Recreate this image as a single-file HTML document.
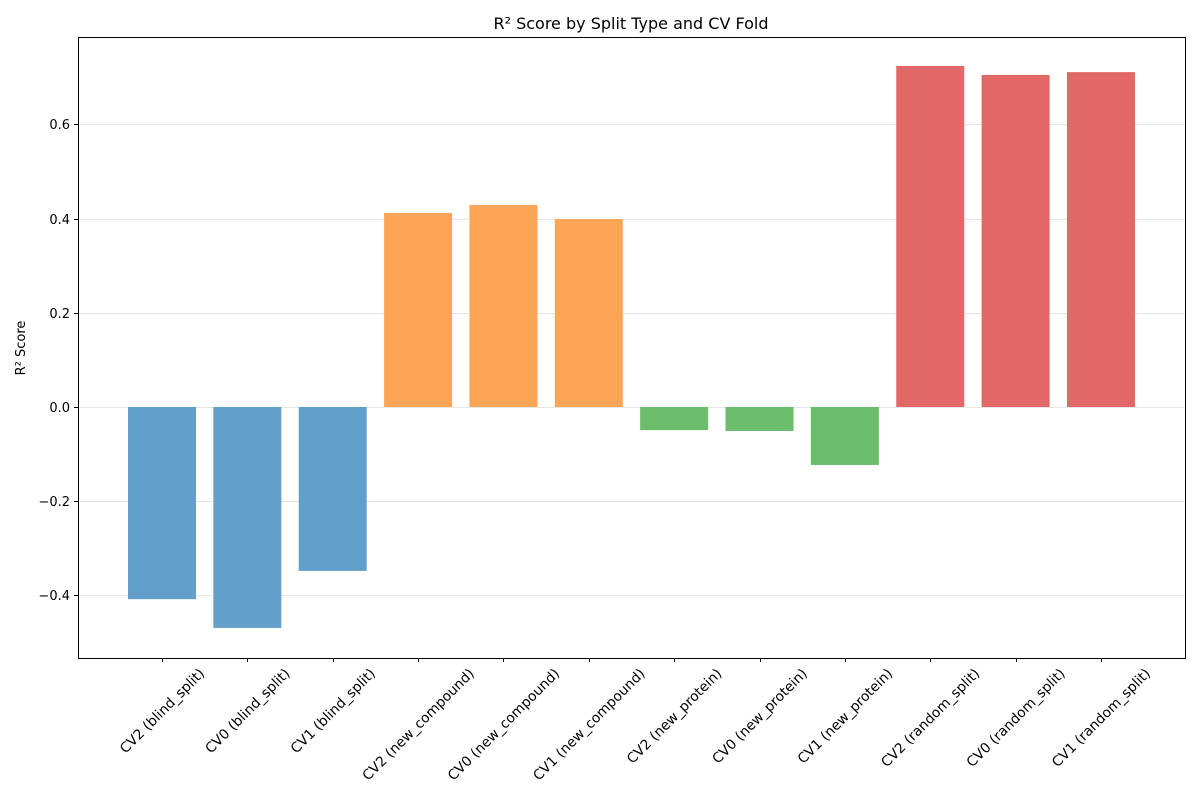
<!DOCTYPE html>
<html><head><meta charset="utf-8"><style>body{margin:0;background:#fff}svg{display:block;font-family:"DejaVu Sans","Liberation Sans",sans-serif}</style></head>
<body>
<svg id="chart" width="1200" height="800">
<rect width="1200" height="800" fill="#fff"/>
<g id="grid"></g><g id="bars"></g><g id="yaxis"></g><g id="xaxis"></g>
<rect x="78.5" y="37.5" width="1107" height="621" fill="none" stroke="#000" stroke-width="1"/>
<text x="631" y="29" text-anchor="middle" font-size="16">R² Score by Split Type and CV Fold</text>
<text transform="translate(25,348) rotate(-90)" text-anchor="middle" font-size="13">R² Score</text>
</svg>
<script>
const categories=["CV2 (blind_split)","CV0 (blind_split)","CV1 (blind_split)","CV2 (new_compound)","CV0 (new_compound)","CV1 (new_compound)","CV2 (new_protein)","CV0 (new_protein)","CV1 (new_protein)","CV2 (random_split)","CV0 (random_split)","CV1 (random_split)"];
const values=[-0.408,-0.469,-0.348,0.412,0.429,0.399,-0.049,-0.051,-0.123,0.724,0.705,0.711];
const groups=[0,0,0,1,1,1,2,2,2,3,3,3];
const groupColors=["#629fcb","#ffa556","#6bbd6b","#e26767"];
const yTicks=[-0.4,-0.2,0.0,0.2,0.4,0.6];
const yTickLabels=["−0.4","−0.2","0.0","0.2","0.4","0.6"];
const NS="http://www.w3.org/2000/svg";
const yScale=v=>407-v*471;
const xScale=i=>162+i*85.36;
const bw=68;
function mk(t,a,p){const e=document.createElementNS(NS,t);for(const k in a)e.setAttribute(k,a[k]);p.appendChild(e);return e;}
const grid=document.getElementById('grid'),bars=document.getElementById('bars'),ya=document.getElementById('yaxis'),xa=document.getElementById('xaxis');
yTicks.forEach((t,i)=>{const y=Math.round(yScale(t))+0.5;
const g=mk('line',{x1:78,x2:1185,y1:y,y2:y,stroke:'#e6e6e6','stroke-width':1},grid);


const tk=mk('line',{x1:74,x2:78,y1:y,y2:y,stroke:'#000'},ya);


const tx=mk('text',{x:70,y:y+4.5,'text-anchor':'end','font-size':13},ya);tx.textContent=yTickLabels[i];

});
categories.forEach((c,i)=>{const x=xScale(i),v=values[i];const y0=yScale(0),y1=yScale(v);
const r=mk('rect',{x:x-bw/2,y:Math.min(y0,y1),width:bw,height:Math.abs(y1-y0),fill:groupColors[groups[i]]},bars);


const tk=mk('line',{x1:Math.round(x)+0.5,x2:Math.round(x)+0.5,y1:658,y2:662,stroke:'#000'},xa);


const tx=mk('text',{'text-anchor':'middle','font-size':13.8},xa);tx.textContent=c;


const L=tx.getComputedTextLength();const h=(L*0.7071+13.8*0.7071)/2;
tx.setAttribute('transform',`translate(${x},${666+h}) rotate(-45) translate(0,4.8)`);});
</script>
</body></html>
